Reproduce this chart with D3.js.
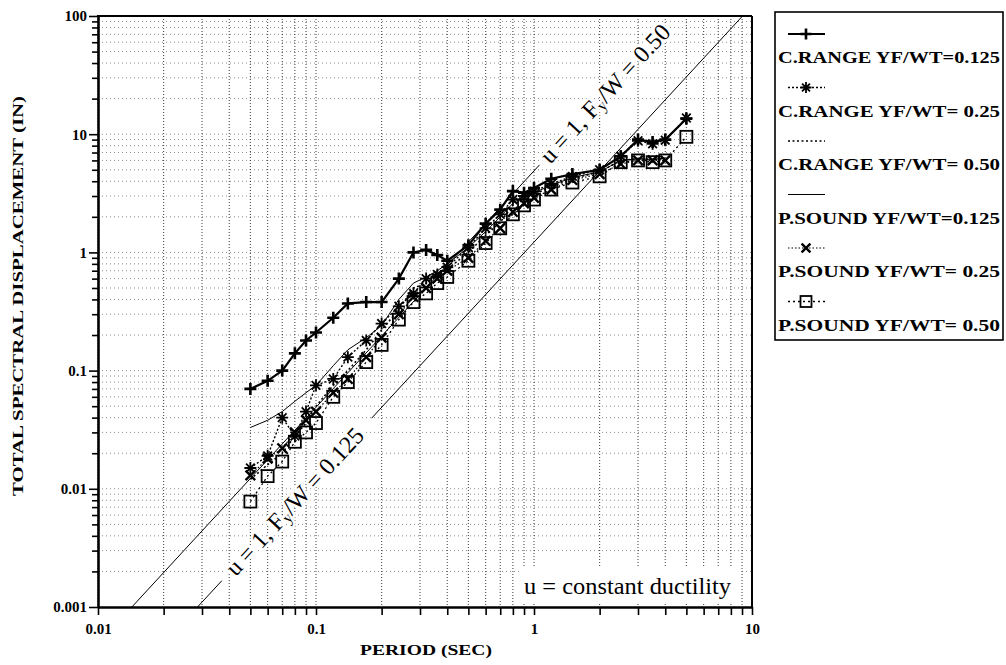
<!DOCTYPE html>
<html><head><meta charset="utf-8">
<script src="https://cdn.jsdelivr.net/npm/d3@7"></script>
<style>body{margin:0;background:#fff} svg{display:block}</style>
</head><body>
<svg id="c" width="1006" height="665"></svg>
<script>
// ---------------- data ----------------
const periods   = [0.05,0.06,0.07,0.08,0.09,0.1,0.12,0.14,0.17,0.2,0.24,0.28,0.32,0.36,0.4,0.5,0.6,0.7,0.8,0.9,1.0,1.2,1.5,2.0,2.5,3.0,3.5,4.0,5.0];
const crange125 = [0.070,0.082,0.10,0.14,0.18,0.21,0.28,0.37,0.38,0.38,0.60,1.00,1.05,0.95,0.85,1.15,1.75,2.3,3.3,3.2,3.5,4.2,4.6,5.0,6.5,9.0,8.6,9.0,13.5];
const crange25  = [0.015,0.019,0.040,0.028,0.045,0.075,0.085,0.13,0.18,0.25,0.35,0.45,0.60,0.65,0.75,1.1,1.6,2.1,2.8,3.0,3.3,3.8,4.4,5.0,6.5,8.8,8.3,8.9,13.7];
const crange50  = [0.012,0.016,0.020,0.028,0.036,0.050,0.075,0.10,0.15,0.22,0.33,0.50,0.55,0.65,0.72,1.0,1.4,1.8,2.5,2.8,3.1,3.6,4.2,4.8,6.0,6.2,6.1,6.2,null];
const psound125 = [0.033,0.038,0.045,0.055,0.065,0.075,0.11,0.15,0.19,0.24,0.40,0.55,0.62,0.70,0.80,1.1,1.5,2.0,2.6,3.0,3.2,3.7,4.3,4.8,6.0,6.2,6.1,6.3,null];
const psound25  = [0.013,0.018,0.022,0.030,0.038,0.045,0.065,0.085,0.13,0.19,0.30,0.42,0.50,0.60,0.70,0.90,1.25,1.6,2.2,2.6,2.9,3.4,4.1,4.6,5.6,6.0,6.0,6.0,null];
const psound50  = [0.0078,0.0128,0.017,0.025,0.030,0.036,0.060,0.080,0.118,0.165,0.27,0.38,0.45,0.55,0.62,0.85,1.2,1.6,2.1,2.5,2.8,3.4,3.9,4.4,5.8,6.0,5.8,6.0,9.5];

// reference lines (u = 1), visible pieces: [period, displacement]
const refHighT  = [0.0143, 1.06];
const refHighD  = [0.001, 5.5];
const refLowT1  = [0.0286, 0.037];
const refLowD1  = [0.001, 0.00167];
const refLowT2  = [0.18, 9.05];
const refLowD2  = [0.0396, 100];

const seriesNames = ["C.RANGE YF/WT=0.125","C.RANGE YF/WT= 0.25","C.RANGE YF/WT= 0.50","P.SOUND YF/WT=0.125","P.SOUND YF/WT= 0.25","P.SOUND YF/WT= 0.50"];
const xTickLabels = ["0.01","0.1","1","10"];
const yTickLabels = ["0.001","0.01","0.1","1","10","100"];

// ---------------- drawing ----------------
const svg = d3.select("#c");
const serif = "'Liberation Serif','DejaVu Serif',serif";
const x = d3.scaleLog().domain([0.01,10]).range([98,752]);
const y = d3.scaleLog().domain([0.001,100]).range([607,16]);
const isMajor = v => Math.abs(Math.log10(v) - Math.round(Math.log10(v))) < 1e-6;

// grid
const grid = svg.append("g");
grid.selectAll("line.vx").data(x.ticks()).join("line")
  .attr("x1", d=>x(d)).attr("x2", d=>x(d)).attr("y1", 16).attr("y2", 607)
  .attr("stroke", "#000").attr("stroke-width", 1.1).attr("stroke-dasharray", "1,2").attr("opacity", 0.7);
grid.selectAll("line.hy").data(y.ticks()).join("line")
  .attr("x1", 98).attr("x2", 752).attr("y1", d=>y(d)).attr("y2", d=>y(d))
  .attr("stroke", "#000").attr("stroke-width", 1).attr("stroke-dasharray", "1,3").attr("opacity", 0.45);

const plot = svg.append("g");
const line = d3.line().defined(d=>d[1]!=null).x(d=>x(d[0])).y(d=>y(d[1]));

// reference lines
function refLine(ts, ds){
  plot.append("path").datum(ts.map((t,i)=>[t, ds[i]])).attr("d", line)
    .attr("fill","none").attr("stroke","#000").attr("stroke-width",1);
}
refLine(refHighT, refHighD);
refLine(refLowT1, refLowD1);
refLine(refLowT2, refLowD2);

// series
const series = [
  {v: crange125, w: 2.2, dash: null,    mark: "plus"},
  {v: crange25,  w: 1.4, dash: "2,2",   mark: "star"},
  {v: crange50,  w: 1.6, dash: "2,2.5", mark: null},
  {v: psound125, w: 1.0, dash: null,    mark: null},
  {v: psound25,  w: 1.2, dash: "1.5,2", mark: "cross"},
  {v: psound50,  w: 1.3, dash: "2,3",   mark: "square"}
];
function marker(g, type, cx, cy, s){
  if(type==="plus"){
    g.append("path").attr("d",`M${cx-s},${cy}H${cx+s}M${cx},${cy-s}V${cy+s}`)
      .attr("stroke","#000").attr("stroke-width",2.6).attr("fill","none");
  } else if(type==="star"){
    const k = s*0.72;
    g.append("path").attr("d",`M${cx-s},${cy}H${cx+s}M${cx},${cy-s}V${cy+s}M${cx-k},${cy-k}L${cx+k},${cy+k}M${cx-k},${cy+k}L${cx+k},${cy-k}`)
      .attr("stroke","#000").attr("stroke-width",1.8).attr("fill","none");
  } else if(type==="cross"){
    const k = s*0.8;
    g.append("path").attr("d",`M${cx-k},${cy-k}L${cx+k},${cy+k}M${cx-k},${cy+k}L${cx+k},${cy-k}`)
      .attr("stroke","#000").attr("stroke-width",2.4).attr("fill","none");
  } else if(type==="square"){
    g.append("rect").attr("x",cx-s).attr("y",cy-s).attr("width",2*s).attr("height",2*s)
      .attr("stroke","#000").attr("stroke-width",1.8).attr("fill","none");
  }
}
series.forEach(s=>{
  const pts = periods.map((t,i)=>[t, s.v[i]]);
  plot.append("path").datum(pts).attr("d", line).attr("fill","none")
    .attr("stroke","#000").attr("stroke-width", s.w)
    .attr("stroke-dasharray", s.dash);
});
series.forEach(s=>{
  if(!s.mark) return;
  const g = plot.append("g");
  periods.forEach((t,i)=>{
    if(s.v[i]==null) return;
    marker(g, s.mark, x(t), y(s.v[i]), 6);
  });
});

// reference line labels
function refLabel(t, d, ang, txt, sub, rest){
  const tx = svg.append("text")
    .attr("transform", `translate(${x(t)},${y(d)}) rotate(${ang})`)
    .attr("text-anchor","middle").attr("dominant-baseline","central")
    .attr("font-family", serif).attr("font-size", 24)
    .attr("stroke","#fff").attr("stroke-width",5).attr("paint-order","stroke")
    .attr("fill","#000");
  tx.append("tspan").text(txt);
  tx.append("tspan").attr("font-size",16).attr("dy",5).text(sub);
  tx.append("tspan").attr("dy",-5).text(rest);
}
const angHigh = Math.atan2(y(refHighD[1])-y(refHighD[0]), x(refHighT[1])-x(refHighT[0]))*180/Math.PI;
refLabel(0.0799, 0.0078, angHigh, "u = 1, F", "y", "/W = 0.125");

// constant ductility box
svg.append("rect").attr("x",519).attr("y",567).attr("width",222).attr("height",36).attr("fill","#fff");
svg.append("text").attr("x",524).attr("y",594).attr("font-family",serif).attr("font-size",23)
  .attr("textLength",207).attr("lengthAdjust","spacingAndGlyphs").text("u = constant ductility");

// axes
const yAxis = d3.axisLeft(y).tickValues(y.ticks()).tickSize(8).tickSizeOuter(0).tickPadding(3)
  .tickFormat(d => isMajor(d) ? yTickLabels[Math.round(Math.log10(d))+3] : "");
const gy = svg.append("g").attr("transform","translate(98,0)").call(yAxis);
gy.selectAll(".tick line").attr("x2", d => isMajor(d) ? -9 : -6).attr("stroke-width",1.6);
gy.select(".domain").attr("stroke-width",2.6);
gy.selectAll("text").attr("font-family",serif).attr("font-weight","bold").attr("font-size",15).attr("fill","#000");

const xAxis = d3.axisBottom(x).tickValues(x.ticks()).tickSize(8).tickSizeOuter(0).tickPadding(8)
  .tickFormat(d => isMajor(d) ? xTickLabels[Math.round(Math.log10(d))+2] : "");
const gx = svg.append("g").attr("transform","translate(0,607)").call(xAxis);
gx.selectAll(".tick line").attr("stroke-width",1.6);
gx.select(".domain").attr("stroke-width",2.6);
gx.selectAll("text").attr("font-family",serif).attr("font-weight","bold").attr("font-size",15).attr("fill","#000");

// top and right frame
svg.append("line").attr("x1",97).attr("x2",752).attr("y1",16).attr("y2",16).attr("stroke","#000").attr("stroke-width",2);
svg.append("line").attr("x1",752).attr("x2",752).attr("y1",16).attr("y2",607).attr("stroke","#000").attr("stroke-width",2);
// upper label drawn last so it interrupts the top frame as in the original
refLabel(2.12, 22, angHigh, "u = 1, F", "y", "/W = 0.50");

// axis titles
svg.append("text").attr("x",426).attr("y",655).attr("text-anchor","middle")
  .attr("font-family",serif).attr("font-weight","bold").attr("font-size",15)
  .attr("textLength",132).attr("lengthAdjust","spacingAndGlyphs").text("PERIOD (SEC)");
svg.append("text").attr("transform","translate(23,296) rotate(-90)").attr("text-anchor","middle")
  .attr("font-family",serif).attr("font-weight","bold").attr("font-size",15)
  .attr("textLength",400).attr("lengthAdjust","spacingAndGlyphs").text("TOTAL SPECTRAL DISPLACEMENT (IN)");

// legend
const lg = svg.append("g");
lg.append("rect").attr("x",775).attr("y",12).attr("width",228).attr("height",328)
  .attr("fill","#fff").attr("stroke","#000").attr("stroke-width",1.6);
series.forEach((s,i)=>{
  const ly = 57 + i*53.5;
  const sy = ly - 23;
  lg.append("line").attr("x1",788).attr("x2",825).attr("y1",sy).attr("y2",sy)
    .attr("stroke","#000").attr("stroke-width",s.w).attr("stroke-dasharray",s.dash);
  if(s.mark) marker(lg, s.mark, 806, sy, 5.5);
  lg.append("text").attr("x",778).attr("y",ly+6)
    .attr("font-family",serif).attr("font-weight","bold").attr("font-size",17)
    .attr("textLength",222).attr("lengthAdjust","spacingAndGlyphs").text(seriesNames[i]);
});
</script></body></html>
